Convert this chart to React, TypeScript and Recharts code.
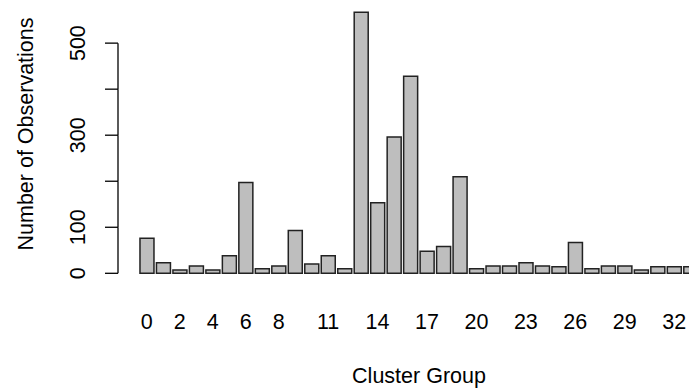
import { BarChart, Bar, XAxis, YAxis } from "recharts";

const clusters = [
  0, 1, 2, 3, 4, 5, 6, 7, 8, 9, 10, 11, 12, 13, 14, 15, 16,
  17, 18, 19, 20, 21, 22, 23, 24, 25, 26, 27, 28, 29, 30, 31, 32, 33,
];
const observations = [
  76, 23, 7, 16, 7, 38, 197, 10, 16, 93, 20, 38, 10, 567, 153, 296, 428,
  48, 58, 210, 10, 16, 16, 23, 16, 14, 67, 10, 16, 16, 7, 14, 14, 14,
];
const xLabels = [0, 2, 4, 6, 8, 11, 14, 17, 20, 23, 26, 29, 32];
const yTicks = [0, 100, 200, 300, 400, 500];
const yLabels = [0, 100, 300, 500];

const data = clusters.map((c, i) => ({ cluster: c, count: observations[i] }));

const FONT = "'Liberation Sans', Arial, sans-serif";
const TOP = 1.7;
const BASE = 273.3;
const Y_MAX = 590;
const STEP = ((BASE - TOP) / Y_MAX) * 100;

function YTick(props: any) {
  const { x, y, payload } = props;
  const v = payload.value;
  return (
    <g>
      <line x1={x - 13} x2={x} y1={y} y2={y} stroke="#000" strokeWidth={1.3} />
      {v < 500 && <line x1={x} x2={x} y1={y} y2={y - STEP} stroke="#000" strokeWidth={1.3} />}
      {yLabels.includes(v) && (
        <text
          x={x - 33}
          y={y}
          transform={`rotate(-90 ${x - 33} ${y})`}
          textAnchor="middle"
          fontSize={21.5}
          fontFamily={FONT}
          fill="#000"
        >
          {v}
        </text>
      )}
    </g>
  );
}

function XTick(props: any) {
  const { x, y, payload } = props;
  if (!xLabels.includes(payload.value)) return null;
  return (
    <text x={x} y={y + 56} textAnchor="middle" fontSize={21.5} fontFamily={FONT} fill="#000">
      {payload.value}
    </text>
  );
}

export default function App() {
  return (
    <div
      style={{
        position: "absolute",
        left: 0,
        top: 0,
        width: 689,
        height: 392,
        overflow: "hidden",
        background: "#fff",
      }}
    >
      <BarChart
        width={720}
        height={392}
        data={data}
        margin={{ top: TOP, right: 0, left: 0, bottom: 0 }}
        barCategoryGap="8.33%"
      >
        <XAxis
          dataKey="cluster"
          type="category"
          interval={0}
          height={392 - BASE}
          padding={{ left: 20.6, right: 21.1 }}
          axisLine={false}
          tickLine={false}
          tickSize={0}
          tickMargin={0}
          tick={<XTick />}
          label={(p: any) => {
            const vb = p.viewBox;
            return (
              <text x={vb.x + vb.width / 2} y={382.5} textAnchor="middle" fontSize={21.5} fontFamily={FONT} fill="#000">
                Cluster Group
              </text>
            );
          }}
        />
        <YAxis
          width={118}
          domain={[0, Y_MAX]}
          ticks={yTicks}
          interval={0}
          axisLine={false}
          tickLine={false}
          tickSize={0}
          tickMargin={0}
          tick={<YTick />}
          label={() => (
            <text
              x={33}
              y={134}
              transform="rotate(-90 33 134)"
              textAnchor="middle"
              fontSize={21.5}
              fontFamily={FONT}
              fill="#000"
            >
              Number of Observations
            </text>
          )}
        />
        <Bar dataKey="count" fill="#bebebe" stroke="#222" strokeWidth={1.5} isAnimationActive={false} />
      </BarChart>
    </div>
  );
}
